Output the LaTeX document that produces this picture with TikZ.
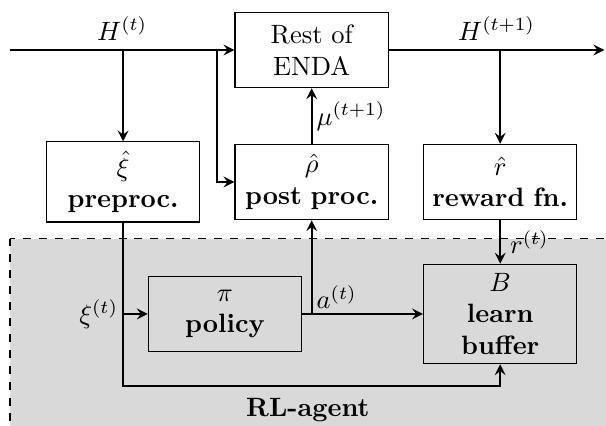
\documentclass[tikz,border=0pt]{standalone}
\usepackage{tikz}
\usetikzlibrary{arrows}

\begin{document}
\begin{tikzpicture}[>=stealth,
  block/.style={draw, fill=white, text width=1.8cm, align=center, minimum height=1cm},
  agentblock/.style={draw, text width=1.8cm, align=center, minimum height=1cm},
  flow/.style={->, thick},
  lbl/.style={inner sep=1.5pt}]

\useasboundingbox (-0.133,0.663) rectangle (7.903,-4.973);

% RL agent area
\draw[dashed, fill=gray!30] (0,-2.5) rectangle (8.3,-5.2);
\node[font=\bfseries] (agent) at (3.95,-4.77) {RL-agent};

% Define nodes
\coordinate (in) at (0,0);
\coordinate (out) at (7.88,0);
\coordinate (split) at (2.75,0);
\coordinate (bot) at (0,-4.45);
\node[block] (enda) at (4,0) {Rest of\\ENDA};
\node[block] (pre) at (1.5,-1.75) {$\hat{\xi}$\\\textbf{preproc.}};
\node[block] (post) at (4,-1.75) {$\hat{\rho}$\\\textbf{post proc.}};
\node[block] (rew) at (6.5,-1.75) {$\hat{r}$\\\textbf{reward fn.}};
\node[agentblock] (pol) at (2.85,-3.5) {$\pi$\\\textbf{policy}};
\node[agentblock] (buf) at (6.5,-3.5) {$B$\\\textbf{learn}\\\textbf{buffer}};

% Draw connections
\draw[flow] (in) -- node[above] {$H^{(t)}$} (enda);
\draw[flow] (enda) -- node[above] {$H^{(t+1)}$} (out);
\draw[flow] (pre |- in) -- (pre);
\draw[flow] (split) |- (post);
\draw[flow] (rew |- out) -- (rew);
\draw[flow] (post) -- node[right, lbl] {$\mu^{(t+1)}$} (enda);
\draw[flow] (rew) -- node[right] {$r^{(t)}$} (buf);
\draw[flow] (pre) -- (pre |- bot) -| (buf);
\draw[flow] (pre |- pol) node[left, lbl] {$\xi^{(t)}$} -- (pol);
\draw[flow] (pol) -- (buf);
\draw[flow] (post |- pol) node[above right, lbl] {$a^{(t)}$} -- (post);

\end{tikzpicture}
\end{document}
